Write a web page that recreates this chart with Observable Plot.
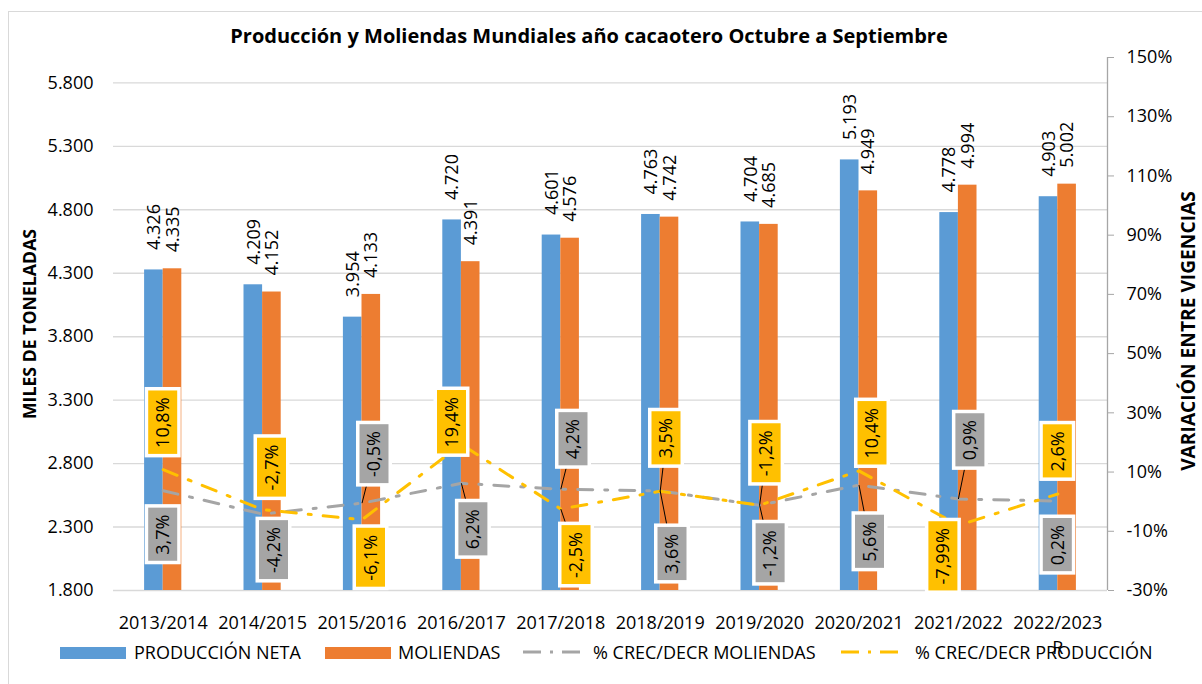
<!DOCTYPE html>
<html><head><meta charset="utf-8">
<script src="https://cdn.jsdelivr.net/npm/d3@7"></script>
<script src="https://cdn.jsdelivr.net/npm/@observablehq/plot@0.6"></script>
<style>
body{margin:0;background:#fff;overflow:hidden;font-family:"Open Sans",sans-serif;color:#000;}
#wrap{position:relative;width:1202px;height:684px;overflow:hidden;background:#fff;}
#frame{position:absolute;left:8px;top:11px;width:1400px;height:900px;border:1.5px solid #d9d9d9;box-sizing:border-box;}
#chart{position:absolute;left:0;top:0;}
#title{position:absolute;left:0;width:1178px;top:26px;text-align:center;font-weight:700;font-size:20px;line-height:1;white-space:nowrap;}
.ytitle{position:absolute;font-weight:700;line-height:1;white-space:nowrap;transform:translate(-50%,-50%) rotate(-90deg);}
.lg{position:absolute;font-size:18px;line-height:1;white-space:nowrap;top:643px;}
.sw{position:absolute;top:647px;width:66px;height:12px;}
.ln{position:absolute;top:646px;}
</style></head><body>
<div id="wrap">
  <div id="frame"></div>
  <div id="chart"></div>
  <div id="title">Producción y Moliendas Mundiales año cacaotero Octubre a Septiembre</div>
  <div class="ytitle" style="left:30px;top:324px;font-size:17.7px;">MILES DE TONELADAS</div>
  <div class="ytitle" style="left:1188px;top:331px;font-size:19.2px;">VARIACIÓN ENTRE VIGENCIAS</div>
  <div id="legend"></div>
</div>
<script>
// ---- data ----
const categories = ["2013/2014","2014/2015","2015/2016","2016/2017","2017/2018","2018/2019","2019/2020","2020/2021","2021/2022","2022/2023"];
const xTickLabels = ["2013/2014","2014/2015","2015/2016","2016/2017","2017/2018","2018/2019","2019/2020","2020/2021","2021/2022","2022/2023\nR"];
const produccionNeta = [4326,4209,3954,4720,4601,4763,4704,5193,4778,4903];
const moliendas = [4335,4152,4133,4391,4576,4742,4685,4949,4994,5002];
const pctProduccion = [10.8,-2.7,-6.1,19.4,-2.5,3.5,-1.2,10.4,-7.99,2.6];
const pctMoliendas = [3.7,-4.2,-0.5,6.2,4.2,3.6,-1.2,5.6,0.9,0.2];
const leftTicks = [1800,2300,2800,3300,3800,4300,4800,5300,5800];
const rightTicks = [-30,-10,10,30,50,70,90,110,130,150];
const seriesNames = ["PRODUCCIÓN NETA","MOLIENDAS","% CREC/DECR MOLIENDAS","% CREC/DECR PRODUCCIÓN"];

// ---- layout (pixels) ----
const W = 1202, H = 684, mt = 57, mb = 94, ml = 113, mr = 95;
const yMin = 1800, yMax = 6000, pMin = -30, pMax = 150;
const step = (W - ml - mr) / categories.length;
const upx = (yMax - yMin) / (H - mt - mb);
const barW = 18.6;
// label centre offsets from point [dx, dy] in px
const offProd = [[0,-47],[9.4,-42],[9,38],[-9.4,-22],[15.7,46],[6.3,-53],[7,-52],[13.5,-37.6],[-15,31],[0,-42.6]];
const offMol  = [[0,44],[11.4,36],[12.5,-49],[12,46],[12.7,-50],[12.3,63],[11,48],[11,56.7],[12,-58.7],[0,44]];
const leadProd = [0,0,0,0,1,1,1,0,0,0];
const leadMol  = [0,0,1,1,1,1,1,1,1,0];

const colors = {prod:"#5B9BD5", mol:"#ED7D31", pm:"#A5A5A5", pp:"#FFC000"};
const dash = "15,12,3,12";

const loc = d3.formatLocale({decimal:",", thousands:".", grouping:[3], currency:["",""]});
const fmtT = loc.format(",d");
const fmtP = p => String(p).replace(".", ",") + "%";
const yFromPct = p => yMin + (p - pMin) * (yMax - yMin) / (pMax - pMin);
const pctFromY = y => Math.round((y - yMin) * (pMax - pMin) / (yMax - yMin) + pMin);

const ctx = document.createElement("canvas").getContext("2d");
ctx.font = "18px 'Open Sans'";
const tw = s => ctx.measureText(s).width;

const rows = categories.map((c, i) => ({i, c, prod: produccionNeta[i], mol: moliendas[i], pp: pctProduccion[i], pm: pctMoliendas[i]}));

function labelRows(key, off, lead) {
  return rows.map(d => {
    const p = d[key];
    const cx = d.i + 0.5, cy = yFromPct(p);
    const lx = cx + off[d.i][0] / step, ly = cy - off[d.i][1] * upx;
    const text = fmtP(p);
    const hh = (tw(text) + 13) / 2, hw = 14.5;
    return {cx, cy, lx, ly, text, hh, hw, lead: lead[d.i]};
  });
}
const lp = labelRows("pp", offProd, leadProd);
const lm = labelRows("pm", offMol, leadMol);

function boxMarks(L, fill) {
  const b = 3.5;
  return [
    Plot.rect(L, {x1: d => d.lx - (d.hw + b) / step, x2: d => d.lx + (d.hw + b) / step,
      y1: d => d.ly - (d.hh + b) * upx, y2: d => d.ly + (d.hh + b) * upx, fill: "white"}),
    Plot.rect(L, {x1: d => d.lx - d.hw / step, x2: d => d.lx + d.hw / step,
      y1: d => d.ly - d.hh * upx, y2: d => d.ly + d.hh * upx, fill}),
    Plot.text(L, {x: "lx", y: "ly", text: "text", rotate: -90, fontSize: 18, fill: "black"})
  ];
}

const chart = Plot.plot({
  width: W, height: H, marginTop: mt, marginBottom: mb, marginLeft: ml, marginRight: mr,
  x: {domain: [0, categories.length], axis: null},
  y: {domain: [yMin, yMax], axis: null},
  style: {fontFamily: "'Open Sans', sans-serif", fontSize: "18px", color: "black", background: "transparent", overflow: "visible"},
  marks: [
    Plot.gridY(leftTicks, {stroke: "#d9d9d9", strokeOpacity: 1, strokeWidth: 1.4}),
    Plot.axisY(leftTicks, {anchor: "left", tickSize: 0, tickPadding: 20, tickFormat: fmtT, fontSize: 18}),
    Plot.ruleX([categories.length], {y1: yMin, y2: yMax, stroke: "#a6a6a6", strokeWidth: 1.3}),
    Plot.axisY(rightTicks.map(yFromPct), {anchor: "right", tickSize: 6, tickPadding: 13, stroke: "#a6a6a6", tickFormat: v => pctFromY(v) + "%", fontSize: 18}),
    Plot.axisX(d3.range(categories.length).map(i => i + 0.5), {anchor: "bottom", tickSize: 0, tickPadding: 20, tickFormat: v => xTickLabels[Math.floor(v)], fontSize: 18, lineHeight: 1.42}),
    Plot.rectY(rows, {x1: "i", x2: d => d.i + 1, y1: yMin, y2: "prod", fill: colors.prod, insetLeft: step / 2 - barW, insetRight: step / 2}),
    Plot.rectY(rows, {x1: "i", x2: d => d.i + 1, y1: yMin, y2: "mol", fill: colors.mol, insetLeft: step / 2, insetRight: step / 2 - barW}),
    Plot.text(rows, {x: d => d.i + 0.5, y: "prod", text: d => fmtT(d.prod), dx: -barW / 2 + 0.5, dy: -20, rotate: -90, textAnchor: "start", fontSize: 18, fill: "black"}),
    Plot.text(rows, {x: d => d.i + 0.5, y: "mol", text: d => fmtT(d.mol), dx: barW / 2 + 0.3, dy: -16.5, rotate: -90, textAnchor: "start", fontSize: 18, fill: "black"}),
    Plot.line(rows, {x: d => d.i + 0.5, y: d => yFromPct(d.pm), stroke: colors.pm, strokeWidth: 3, strokeDasharray: dash}),
    Plot.line(rows, {x: d => d.i + 0.5, y: d => yFromPct(d.pp), stroke: colors.pp, strokeWidth: 3, strokeDasharray: dash}),
    Plot.link(lp.filter(d => d.lead), {x1: "cx", y1: "cy", x2: "lx", y2: "ly", stroke: "black", strokeWidth: 1}),
    Plot.link(lm.filter(d => d.lead), {x1: "cx", y1: "cy", x2: "lx", y2: "ly", stroke: "black", strokeWidth: 1}),
    ...boxMarks(lp, colors.pp),
    ...boxMarks(lm, colors.pm)
  ]
});
document.getElementById("chart").appendChild(chart);

// ---- legend ----
const lg = document.getElementById("legend");
const items = [
  {type: "sw", color: colors.prod, swLeft: 60, textLeft: 134, name: seriesNames[0]},
  {type: "sw", color: colors.mol, swLeft: 325, textLeft: 398, name: seriesNames[1]},
  {type: "ln", color: colors.pm, swLeft: 523, textLeft: 593, name: seriesNames[2]},
  {type: "ln", color: colors.pp, swLeft: 841, textLeft: 915, name: seriesNames[3]}
];
for (const it of items) {
  if (it.type === "sw") {
    const s = document.createElement("div");
    s.className = "sw"; s.style.left = it.swLeft + "px"; s.style.background = it.color;
    lg.appendChild(s);
  } else {
    const s = document.createElementNS("http://www.w3.org/2000/svg", "svg");
    s.setAttribute("class", "ln"); s.setAttribute("width", 60); s.setAttribute("height", 12);
    s.style.left = it.swLeft + "px";
    s.innerHTML = `<line x1="0" y1="6" x2="60" y2="6" stroke="${it.color}" stroke-width="3" stroke-dasharray="18,9,3,9"/>`;
    lg.appendChild(s);
  }
  const t = document.createElement("div");
  t.className = "lg"; t.style.left = it.textLeft + "px"; t.textContent = it.name;
  lg.appendChild(t);
}
</script>
</body></html>
